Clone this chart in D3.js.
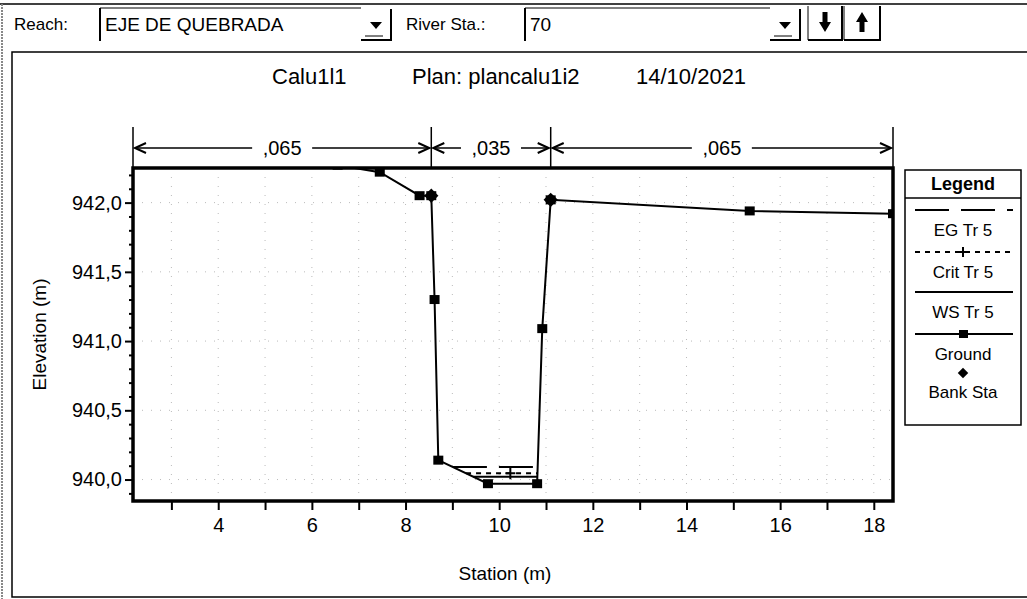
<!DOCTYPE html>
<html>
<head>
<meta charset="utf-8">
<script src="https://cdn.jsdelivr.net/npm/d3@7"></script>
<style>
  body { margin: 0; background: #fff; }
  svg { display: block; font-family: "Liberation Sans", Arial, sans-serif; }
</style>
</head>
<body>
<svg id="chart" width="1027" height="599"></svg>
<script>
// ---- cross-section data (station m, elevation m) ----
const groundStation = [2.18, 6.55, 7.45, 8.30, 8.55, 8.62, 8.70, 9.76, 10.81, 10.92, 11.10, 15.35, 18.41];
const groundElev    = [942.32, 942.27, 942.22, 942.05, 942.05, 941.30, 940.14, 939.97, 939.97, 941.09, 942.02, 941.94, 941.92];

// bank stations
const bankStation = [8.55, 11.10];
const bankElev    = [942.05, 942.02];

// Manning's n zones
const mannBreaks = [2.18, 8.55, 11.10, 18.41];
const mannLabels = [",065", ",035", ",065"];

// profile results (Tr 5)
const profileNames = ["EG Tr 5", "Crit Tr 5", "WS Tr 5"];
const profileElev  = [940.09, 940.045, 940.02];

// axis ticks
const xMajor = [4, 6, 8, 10, 12, 14, 16, 18];
const xMinor = [3, 5, 7, 9, 11, 13, 15, 17];
const yMajor = [940.0, 940.5, 941.0, 941.5, 942.0];
const yMinor = [939.9, 940.1, 940.2, 940.3, 940.4, 940.6, 940.7, 940.8, 940.9,
                941.1, 941.2, 941.3, 941.4, 941.6, 941.7, 941.8, 941.9, 942.1, 942.2];

// header text
const reachName = "EJE DE QUEBRADA";
const riverSta = "70";
const titleParts = ["Calu1l1", "Plan: plancalu1i2", "14/10/2021"];

// ---- layout ----
const svg = d3.select("#chart");
const plot = { left: 133, right: 893, top: 168, bottom: 501 };

const x = d3.scaleLinear().domain([2.18, 18.41]).range([plot.left, plot.right]);
const y = d3.scaleLinear().domain([939.845, 942.25]).range([plot.bottom, plot.top]);
const fmtY = v => d3.format(".1f")(v).replace(".", ",");

// ---- window chrome: selector row ----
const hdr = svg.append("g");
hdr.append("line").attr("x1", 0).attr("x2", 1027).attr("y1", 4).attr("y2", 4)
   .attr("stroke", "#000").attr("stroke-width", 1.5);
hdr.append("line").attr("x1", 2).attr("x2", 2).attr("y1", 4).attr("y2", 599)
   .attr("stroke", "#888").attr("stroke-width", 2).attr("stroke-dasharray", "2,1");

function combo(x0, x1, label) {
  const g = hdr.append("g");
  g.append("rect").attr("x", x0).attr("y", 8).attr("width", x1 - x0).attr("height", 32)
   .attr("fill", "#fff");
  g.append("line").attr("x1", x0).attr("x2", x0).attr("y1", 8).attr("y2", 41)
   .attr("stroke", "#000").attr("stroke-width", 2);
  g.append("line").attr("x1", x0).attr("x2", x1 - 30).attr("y1", 8).attr("y2", 8)
   .attr("stroke", "#000").attr("stroke-width", 1);
  g.append("text").attr("x", x0 + 5).attr("y", 31).attr("font-size", 19).text(label);
  // drop-down button
  const bx = x1 - 30;
  g.append("path").attr("d", `M${bx},40 L${x1},40 L${x1},9`)
   .attr("fill", "none").attr("stroke", "#000").attr("stroke-width", 2);
  g.append("path").attr("d", `M${bx + 9},22 L${bx + 21},22 L${bx + 15},29 Z`).attr("fill", "#000");
  g.append("line").attr("x1", bx + 4).attr("x2", bx + 22).attr("y1", 36).attr("y2", 36)
   .attr("stroke", "#000").attr("stroke-width", 1);
}
hdr.append("text").attr("x", 14).attr("y", 30).attr("font-size", 17).text("Reach:");
combo(100, 391, reachName);
hdr.append("text").attr("x", 406).attr("y", 30).attr("font-size", 17).text("River Sta.:");
combo(525, 800, riverSta);

function arrowButton(x0, x1, dir) {
  const g = hdr.append("g");
  g.append("path").attr("d", `M${x0},40 L${x1},40 L${x1},6`)
   .attr("fill", "none").attr("stroke", "#000").attr("stroke-width", 2);
  g.append("line").attr("x1", x0).attr("x2", x0).attr("y1", 6).attr("y2", 40)
   .attr("stroke", "#000").attr("stroke-width", 1);
  const cx = (x0 + x1) / 2;
  const p = dir === "down"
    ? `M${cx - 2.5},12 L${cx + 2.5},12 L${cx + 2.5},22 L${cx + 6},22 L${cx},32 L${cx - 6},22 L${cx - 2.5},22 Z`
    : `M${cx - 2.5},32 L${cx + 2.5},32 L${cx + 2.5},22 L${cx + 6},22 L${cx},12 L${cx - 6},22 L${cx - 2.5},22 Z`;
  g.append("path").attr("d", p).attr("fill", "#000");
}
arrowButton(808, 842, "down");
arrowButton(844, 880, "up");

// ---- chart panel border ----
svg.append("path").attr("d", "M1027,52 L12,52 L12,597 L1027,597")
   .attr("fill", "none").attr("stroke", "#000").attr("stroke-width", 1.5);

// ---- title ----
const titleX = [272, 412, 636];
svg.append("g").selectAll("text").data(titleParts).join("text")
   .attr("x", (d, i) => titleX[i]).attr("y", 84).attr("font-size", 22).text(d => d);

// ---- gridlines ----
const grid = svg.append("g").attr("stroke", "#bbb").attr("stroke-width", 1)
  .attr("stroke-dasharray", "1,8");
grid.selectAll("line.gx").data(xMajor.concat(xMinor)).join("line")
  .attr("x1", d => x(d)).attr("x2", d => x(d)).attr("y1", plot.top).attr("y2", plot.bottom);
grid.selectAll("line.gy").data(yMajor).join("line")
  .attr("y1", d => y(d)).attr("y2", d => y(d)).attr("x1", plot.left).attr("x2", plot.right);

// ---- axes ----
const axisY = svg.append("g").attr("transform", `translate(${plot.left},0)`)
  .call(d3.axisLeft(y).tickValues(yMajor).tickFormat(fmtY).tickSize(8).tickPadding(3));
svg.append("g").attr("transform", `translate(${plot.left},0)`)
  .call(d3.axisLeft(y).tickValues(yMinor).tickFormat("").tickSize(4));
const axisX = svg.append("g").attr("transform", `translate(0,${plot.bottom})`)
  .call(d3.axisBottom(x).tickValues(xMajor).tickFormat(d3.format("d")).tickSize(9).tickPadding(8));
svg.append("g").attr("transform", `translate(0,${plot.bottom})`)
  .call(d3.axisBottom(x).tickValues(xMinor).tickFormat("").tickSize(9));
svg.selectAll(".domain").remove();
svg.selectAll(".tick line").attr("stroke", "#000").attr("stroke-width", 2);
axisY.selectAll("text").attr("font-size", 20).attr("fill", "#000")
  .attr("font-family", "Liberation Sans, Arial, sans-serif");
axisX.selectAll("text").attr("font-size", 20).attr("fill", "#000")
  .attr("font-family", "Liberation Sans, Arial, sans-serif");

svg.append("text").attr("transform", `translate(46,${(plot.top + plot.bottom) / 2}) rotate(-90)`)
  .attr("text-anchor", "middle").attr("font-size", 19).text("Elevation (m)");
svg.append("text").attr("x", 505).attr("y", 580)
  .attr("text-anchor", "middle").attr("font-size", 19).text("Station (m)");

// ---- Manning's n bar ----
const mann = svg.append("g");
const barY = 148;
mann.selectAll("line.brk").data(mannBreaks).join("line")
  .attr("x1", d => x(d)).attr("x2", d => x(d)).attr("y1", 127).attr("y2", plot.top)
  .attr("stroke", "#000").attr("stroke-width", 1.5);
mannLabels.forEach((lab, i) => {
  const a = x(mannBreaks[i]) + 2, b = x(mannBreaks[i + 1]) - 2;
  const mid = (a + b) / 2;
  const half = 30;
  mann.append("line").attr("x1", a).attr("x2", mid - half).attr("y1", barY).attr("y2", barY)
    .attr("stroke", "#000").attr("stroke-width", 1.5);
  mann.append("line").attr("x1", mid + half).attr("x2", b).attr("y1", barY).attr("y2", barY)
    .attr("stroke", "#000").attr("stroke-width", 1.5);
  mann.append("path").attr("d", `M${a + 11},${barY - 5} L${a},${barY} L${a + 11},${barY + 5}`)
    .attr("fill", "none").attr("stroke", "#000").attr("stroke-width", 2);
  mann.append("path").attr("d", `M${b - 11},${barY - 5} L${b},${barY} L${b - 11},${barY + 5}`)
    .attr("fill", "none").attr("stroke", "#000").attr("stroke-width", 2);
  mann.append("text").attr("x", mid).attr("y", barY + 7).attr("text-anchor", "middle")
    .attr("font-size", 20).text(lab);
});

// ---- plot contents ----
svg.append("clipPath").attr("id", "plotClip").append("rect")
  .attr("x", plot.left).attr("y", plot.top)
  .attr("width", plot.right - plot.left).attr("height", plot.bottom - plot.top);
const body = svg.append("g").attr("clip-path", "url(#plotClip)");

const groundPts = groundStation.map((s, i) => [s, groundElev[i]]);

// water-surface extent between ground crossings around the thalweg
function waterExtent(z) {
  const i0 = d3.minIndex(groundElev);
  let l = i0; while (l > 0 && groundElev[l - 1] < z) l--;
  let r = i0; while (r < groundElev.length - 1 && groundElev[r + 1] < z) r++;
  const lerp = (i, j) => groundStation[i] + (z - groundElev[i]) *
    (groundStation[j] - groundStation[i]) / (groundElev[j] - groundElev[i]);
  return [lerp(l - 1, l), lerp(r, r + 1)];
}

const profileDash = ["34,12", "5,5", null];
profileElev.forEach((z, i) => {
  const [s0, s1] = waterExtent(z);
  const ln = body.append("line").attr("x1", x(s0)).attr("x2", x(s1))
    .attr("y1", y(z)).attr("y2", y(z)).attr("stroke", "#000").attr("stroke-width", 2);
  if (profileDash[i]) ln.attr("stroke-dasharray", profileDash[i]);
  if (profileNames[i].startsWith("Crit")) {
    const cx = x(s0 + (s1 - s0) * 0.62);
    body.append("path").attr("d", `M${cx - 5},${y(z)} L${cx + 5},${y(z)} M${cx},${y(z) - 6} L${cx},${y(z) + 6}`)
      .attr("stroke", "#000").attr("stroke-width", 2);
  }
});

body.append("path").datum(groundPts)
  .attr("d", d3.line().x(d => x(d[0])).y(d => y(d[1])))
  .attr("fill", "none").attr("stroke", "#000").attr("stroke-width", 2);
body.selectAll("rect.gpt").data(groundPts).join("rect")
  .attr("x", d => x(d[0]) - 5).attr("y", d => y(d[1]) - 4.5)
  .attr("width", 10).attr("height", 9).attr("fill", "#000");
body.selectAll("path.bank").data(bankStation.map((s, i) => [s, bankElev[i]])).join("path")
  .attr("transform", d => `translate(${x(d[0])},${y(d[1])})`)
  .attr("d", d3.symbol(d3.symbolDiamond2, 130)).attr("fill", "#000");

// frame
svg.append("rect").attr("x", plot.left).attr("y", plot.top)
  .attr("width", plot.right - plot.left).attr("height", plot.bottom - plot.top)
  .attr("fill", "none").attr("stroke", "#000").attr("stroke-width", 3.5);

// ---- legend ----
const lg = svg.append("g");
const L = { x0: 905, x1: 1021, y0: 170, y1: 425 };
const lcx = (L.x0 + L.x1) / 2;
lg.append("rect").attr("x", L.x0).attr("y", L.y0).attr("width", L.x1 - L.x0).attr("height", L.y1 - L.y0)
  .attr("fill", "#fff").attr("stroke", "#000").attr("stroke-width", 1.5);
lg.append("line").attr("x1", L.x0).attr("x2", L.x1).attr("y1", 198).attr("y2", 198)
  .attr("stroke", "#000").attr("stroke-width", 1.5);
lg.append("text").attr("x", lcx).attr("y", 190).attr("text-anchor", "middle")
  .attr("font-size", 18).attr("font-weight", "bold").text("Legend");

const lx0 = L.x0 + 10, lx1 = L.x1 - 8;
const legendRows = [
  { name: profileNames[0], lineY: 210, textY: 236, dash: profileDash[0] },
  { name: profileNames[1], lineY: 252, textY: 278, dash: profileDash[1], plus: true },
  { name: profileNames[2], lineY: 292, textY: 318, dash: null },
  { name: "Ground", lineY: 334, textY: 360, dash: null, square: true }
];
legendRows.forEach(r => {
  const ln = lg.append("line").attr("x1", lx0).attr("x2", lx1).attr("y1", r.lineY).attr("y2", r.lineY)
    .attr("stroke", "#000").attr("stroke-width", 2);
  if (r.dash) ln.attr("stroke-dasharray", r.dash);
  if (r.plus) lg.append("path")
    .attr("d", `M${lcx - 4},${r.lineY} L${lcx + 4},${r.lineY} M${lcx},${r.lineY - 5} L${lcx},${r.lineY + 5}`)
    .attr("stroke", "#000").attr("stroke-width", 2);
  if (r.square) lg.append("rect").attr("x", lcx - 4).attr("y", r.lineY - 4)
    .attr("width", 9).attr("height", 8).attr("fill", "#000");
  lg.append("text").attr("x", lcx).attr("y", r.textY).attr("text-anchor", "middle")
    .attr("font-size", 17).text(r.name);
});
lg.append("path").attr("transform", `translate(${lcx},373)`)
  .attr("d", d3.symbol(d3.symbolDiamond2, 70)).attr("fill", "#000");
lg.append("text").attr("x", lcx).attr("y", 398).attr("text-anchor", "middle")
  .attr("font-size", 17).text("Bank Sta");
</script>
</body>
</html>
